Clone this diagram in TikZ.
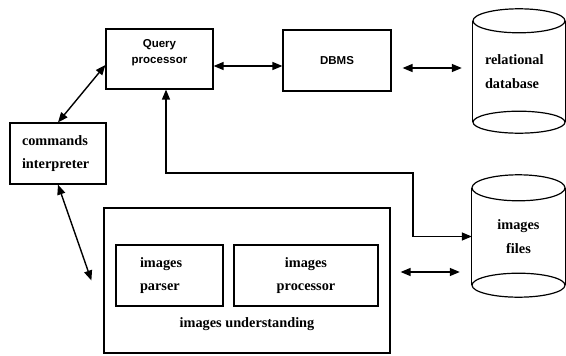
\documentclass[tikz,border=0pt]{standalone}
\usepackage{fontspec}
\setmainfont{Liberation Serif}
\setsansfont{Liberation Sans}
\usetikzlibrary{arrows.meta, positioning}
\tikzset{
    >={Triangle[length=10pt, width=8pt]}, % filled heads on all links
    box/.style={draw, line width=1.2pt, inner sep=0pt}, % plain module frame
    serif/.style={font=\bfseries\fontsize{14.3}{23.5}\selectfont},
    sans/.style={font=\sffamily\bfseries\fontsize{11.5}{16}\selectfont},
    link/.style={<->, line width=1.4pt}, % two-way data flow
    store/.style={line width=1.2pt}, % cylinder outline
}

\begin{document}
\begin{tikzpicture}[x=1pt, y=-1pt]
\useasboundingbox (0,0) rectangle (566,356);

% query side
\node[box, minimum width=107pt, minimum height=60pt] (qp) at (159.5,59) {};
\node[sans, align=center] (qptext) at ([yshift=6pt]qp.center) {Query\\processor};
\node[box, sans, minimum width=108pt, minimum height=61pt] (dbms) at (337,60.5) {DBMS};
\node[box, serif, align=left, text width=72pt, inner xsep=12pt, minimum height=61pt] (cmd) at (58,153.5) {commands\\interpreter};

% image side
\node[box, minimum width=286pt, minimum height=145pt] (iu) at (247,280.5) {};
\node[serif] (iutext) at ([yshift=29pt]iu.south) {images understanding};
\node[box, serif, align=left, text width=59pt, inner xsep=24pt, minimum height=61pt] (parser) at (169.5,275.5) {images\\parser};
\node[box, serif, align=center, minimum width=144pt, minimum height=61pt] (improc) at (306,275.5) {images\\processor};

% stores
\node[serif, align=left, text width=68pt, inner xsep=12pt, inner ysep=0pt, minimum height=101pt] (reldb) at (519,71.5) {relational\\database};
\draw[store] (reldb.north west) -- (reldb.south west) (reldb.north east) -- (reldb.south east);
\draw[store] (reldb.north) ellipse [x radius=46pt, y radius=12pt];
\draw[store] (reldb.south) ellipse [x radius=46pt, y radius=11pt];

\node[serif, align=center, minimum width=93pt, inner sep=0pt, minimum height=97pt] (files) at (518.5,236.5) {images\\files};
\draw[store] (files.north west) -- (files.south west) (files.north east) -- (files.south east);
\draw[store] (files.north) ellipse [x radius=46.5pt, y radius=13pt];
\draw[store] (files.south) ellipse [x radius=46.5pt, y radius=12pt];

% links
\draw[link] ([yshift=-7pt]qp.east) -- ([yshift=-7pt]qp.east -| dbms.west);
\draw[link] ([xshift=11pt, yshift=-7.5pt]dbms.east) -- ([xshift=-11pt, yshift=-7.5pt]dbms.east -| reldb.west);
\draw[link] (cmd.north) -- ([yshift=-6pt]qp.west);
\draw[link] (cmd.south) -- ([xshift=-12pt]iu.west);
\coordinate (turn) at (413,173);
\draw[link] ([xshift=6.5pt]qp.south) |- (turn) |- (files.west);
\draw[link] ([xshift=10pt, yshift=8.5pt]iu.east) -- ([xshift=-12pt, yshift=8.5pt]iu.east -| files.west);
\end{tikzpicture}
\end{document}
